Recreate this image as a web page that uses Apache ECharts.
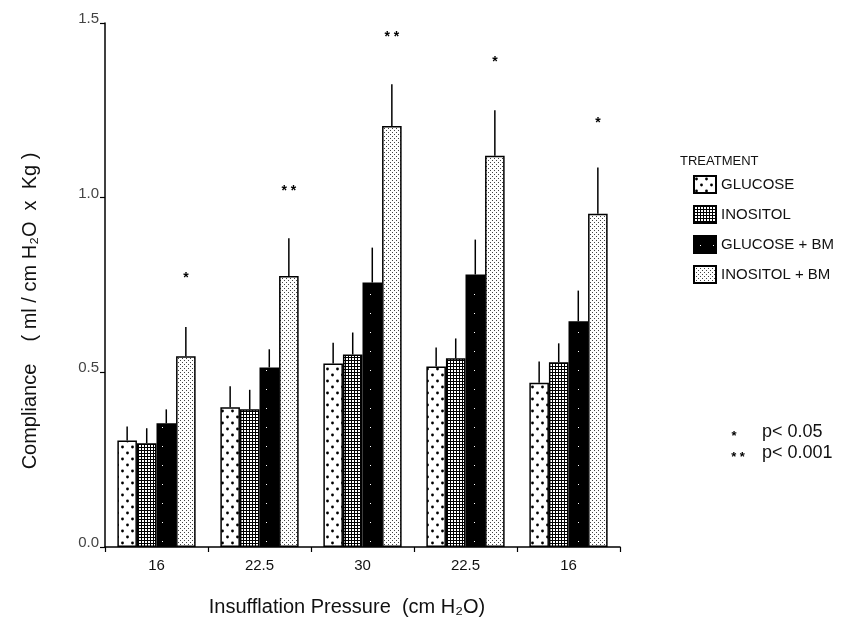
<!DOCTYPE html>
<html>
<head>
<meta charset="utf-8">
<script src="https://cdn.jsdelivr.net/npm/echarts@6/dist/echarts.min.js"></script>
<style>
html,body{margin:0;padding:0;background:#fff;}
#chart{width:862px;height:624px;}
</style>
</head>
<body>
<div id="chart"></div>
<script>
// ---- data ----
const categories = ['16', '22.5', '30', '22.5', '16'];
const seriesNames = ['GLUCOSE', 'INOSITOL', 'GLUCOSE + BM', 'INOSITOL + BM'];
const glucose      = [0.305, 0.400, 0.525, 0.517, 0.470];
const glucoseErr   = [0.345, 0.460, 0.585, 0.571, 0.531];
const inositol     = [0.297, 0.394, 0.551, 0.540, 0.529];
const inositolErr  = [0.340, 0.450, 0.614, 0.597, 0.583];
const glucoseBM    = [0.354, 0.514, 0.757, 0.780, 0.646];
const glucoseBMErr = [0.394, 0.566, 0.857, 0.880, 0.734];
const inositolBM   = [0.546, 0.776, 1.205, 1.120, 0.954];
const inositolBMErr= [0.630, 0.884, 1.325, 1.250, 1.086];
const sigLabels    = ['*', '* *', '* *', '*', '*'];
const sigLevels    = [0.78, 1.03, 1.47, 1.40, 1.226];
const yTicks       = [0, 0.5, 1.0, 1.5];

// ---- patterns ----
function makePattern(w, h, bg, draw) {
  const c = document.createElement('canvas');
  c.width = w; c.height = h;
  const ctx = c.getContext('2d');
  ctx.fillStyle = bg; ctx.fillRect(0, 0, w, h);
  draw(ctx);
  return { image: c, repeat: 'repeat' };
}
function dot(ctx, x, y, r) { ctx.beginPath(); ctx.arc(x, y, r, 0, Math.PI * 2); ctx.fill(); }
const patGlucose = makePattern(10, 12, '#fff', ctx => {
  ctx.fillStyle = '#000'; dot(ctx, 2.5, 3, 1.4); dot(ctx, 7.5, 9, 1.4);
});
const patInositol = makePattern(3, 3, '#000', ctx => {
  ctx.fillStyle = '#fff'; ctx.fillRect(1, 1, 2, 2);
});
const patGlucoseBM = makePattern(13, 19, '#000', ctx => {
  ctx.fillStyle = '#fff'; ctx.fillRect(6, 9, 1, 1);
});
const patInositolBM = makePattern(4, 4, '#fff', ctx => {
  ctx.fillStyle = '#444'; ctx.fillRect(0, 0, 1, 1); ctx.fillRect(2, 2, 1, 1);
});
const patterns = [patGlucose, patInositol, patGlucoseBM, patInositolBM];
const values = [glucose, inositol, glucoseBM, inositolBM];
const errs = [glucoseErr, inositolErr, glucoseBMErr, inositolBMErr];

const CAT_GAP = 0.24;
const N = 4;

const errData = [];
for (let s = 0; s < N; s++) {
  for (let i = 0; i < categories.length; i++) {
    errData.push([i, values[s][i], errs[s][i], s]);
  }
}
const sigData = categories.map((c, i) => [i, sigLevels[i], 3]);

const FONT = 'Liberation Sans, Arial, sans-serif';

const chart = echarts.init(document.getElementById('chart'), null, { renderer: 'canvas' });

const barSeries = seriesNames.map((name, s) => ({
  name: name,
  type: 'bar',
  data: values[s],
  barGap: '0%',
  barCategoryGap: (CAT_GAP * 100) + '%',
  itemStyle: { color: patterns[s], borderColor: '#000', borderWidth: 1.5 },
  emphasis: { disabled: true },
  z: 2
}));

function offsetFor(api, s) {
  const band = api.size([1, 0])[0];
  const bw = band * (1 - CAT_GAP) / N;
  return (s - (N - 1) / 2) * bw;
}

chart.setOption({
  animation: false,
  backgroundColor: '#fff',
  grid: { left: 105, right: 242, top: 23, bottom: 77 },
  legend: {
    orient: 'vertical',
    left: 688, top: 170,
    icon: 'rect',
    itemWidth: 22, itemHeight: 17, itemGap: 11,
    data: seriesNames,
    textStyle: { fontFamily: FONT, fontSize: 15, lineHeight: 17, color: '#111', padding: [0, 0, 0, 0] },
    selectedMode: false
  },
  xAxis: {
    type: 'category',
    data: categories,
    axisLine: { lineStyle: { color: '#000', width: 1.5 } },
    axisTick: { show: true, length: 5, lineStyle: { color: '#000', width: 1.2 } },
    axisLabel: { fontFamily: FONT, fontSize: 15, color: '#111', margin: 11 }
  },
  yAxis: {
    type: 'value',
    min: yTicks[0], max: yTicks[yTicks.length - 1], interval: 0.5,
    splitLine: { show: false },
    axisLine: { show: true, lineStyle: { color: '#000', width: 1.5 } },
    axisTick: { show: true, length: 5, lineStyle: { color: '#000', width: 1.2 } },
    axisLabel: {
      fontFamily: FONT, fontSize: 15, color: '#444', margin: 6,
      verticalAlign: 'bottom', lineHeight: 8,
      formatter: v => v.toFixed(1)
    }
  },
  series: barSeries.concat([
    {
      type: 'custom',
      name: 'err',
      data: errData,
      encode: { x: 0, y: [1, 2] },
      z: 3,
      silent: true,
      renderItem: function (params, api) {
        const s = api.value(3);
        const p0 = api.coord([api.value(0), api.value(1)]);
        const p1 = api.coord([api.value(0), api.value(2)]);
        const dx = offsetFor(api, s);
        return {
          type: 'line',
          shape: { x1: p0[0] + dx, y1: p0[1], x2: p1[0] + dx, y2: p1[1] },
          style: { stroke: '#000', lineWidth: 1.5 }
        };
      }
    },
    {
      type: 'custom',
      name: 'sig',
      data: sigData,
      encode: { x: 0, y: 1 },
      z: 3,
      silent: true,
      renderItem: function (params, api) {
        const p = api.coord([api.value(0), api.value(1)]);
        const dx = offsetFor(api, api.value(2));
        return {
          type: 'text',
          x: p[0] + dx, y: p[1] + 4,
          style: {
            text: sigLabels[params.dataIndex],
            fontFamily: FONT, fontSize: 14, fontWeight: 'bold', fill: '#000',
            textAlign: 'center', textVerticalAlign: 'middle'
          }
        };
      }
    }
  ]),
  graphic: [
    { type: 'text', left: 680, top: 155,
      style: { text: 'TREATMENT', fontFamily: FONT, fontSize: 13, fill: '#111' } },
    { type: 'text', x: 30, y: 311, rotation: Math.PI / 2,
      style: { text: 'Compliance    ( ml / cm H\u2082O  x  Kg )', fontFamily: FONT, fontSize: 20, fill: '#111',
               textAlign: 'center', textVerticalAlign: 'middle' } },
    { type: 'text', x: 347, y: 607,
      style: { text: 'Insufflation Pressure  (cm H\u2082O)', fontFamily: FONT, fontSize: 20, fill: '#111',
               textAlign: 'center', textVerticalAlign: 'middle' } },
    { type: 'text', x: 734, y: 436,
      style: { text: '*', fontFamily: FONT, fontSize: 13, fontWeight: 'bold', fill: '#000', textAlign: 'center', textVerticalAlign: 'middle' } },
    { type: 'text', x: 762, y: 432,
      style: { text: 'p< 0.05', fontFamily: FONT, fontSize: 18, fill: '#111', textVerticalAlign: 'middle' } },
    { type: 'text', x: 738, y: 457,
      style: { text: '* *', fontFamily: FONT, fontSize: 13, fontWeight: 'bold', fill: '#000', textAlign: 'center', textVerticalAlign: 'middle' } },
    { type: 'text', x: 762, y: 453,
      style: { text: 'p< 0.001', fontFamily: FONT, fontSize: 18, fill: '#111', textVerticalAlign: 'middle' } }
  ]
});
</script>
</body>
</html>
